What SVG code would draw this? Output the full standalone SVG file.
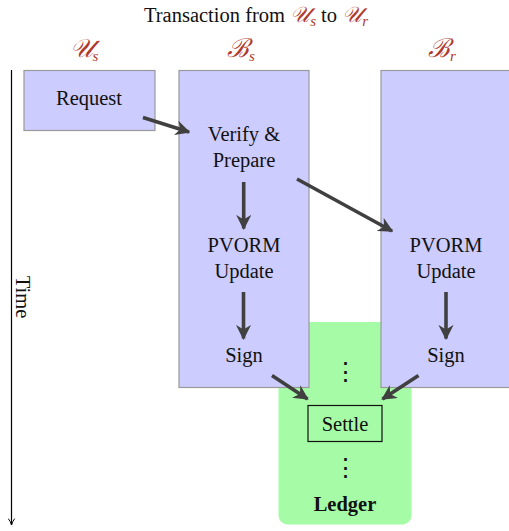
<svg xmlns="http://www.w3.org/2000/svg" width="509" height="531" viewBox="0 0 509 531">
<style>
text{font-family:"Liberation Serif","DejaVu Serif",serif;font-size:20.5px;fill:#111;text-anchor:middle}
.lab{fill:#b03a2e;font-style:italic;font-size:26px}
.tlab{fill:#b03a2e;font-style:italic;font-size:22px}
.sub{font-size:15px;fill:#b03a2e;font-style:italic}
.box{fill:#ccccff;stroke:#999;stroke-width:1.2}
.dots{font-size:25px;font-weight:normal}
.arr{stroke:#404040;stroke-width:3.6;fill:none;marker-end:url(#ah)}
</style>
<defs>
<marker id="ah" viewBox="0 0 10 10" refX="9" refY="5" markerWidth="4.2" markerHeight="4.2" orient="auto" markerUnits="strokeWidth">
<path d="M0,0 L10,5 L0,10 L3,5 Z" fill="#404040"/>
</marker>
<marker id="tah" viewBox="0 0 10 10" refX="9" refY="5" markerWidth="8" markerHeight="8" orient="auto" markerUnits="userSpaceOnUse">
<path d="M1,1 Q5,4 9,5 Q5,6 1,9" fill="none" stroke="#000" stroke-width="1.2"/>
</marker>
</defs>
<g id="title">
<text x="256" y="22" font-size="21.5">Transaction from <tspan class="tlab">𝒰</tspan><tspan class="sub" dy="4">s</tspan><tspan dy="-4"> to </tspan><tspan class="tlab">𝒰</tspan><tspan class="sub" dy="4">r</tspan></text>
</g>
<g id="time">
<line x1="11.5" y1="70" x2="11.5" y2="525" stroke="#000" stroke-width="1.2" marker-end="url(#tah)"/>
<text transform="translate(22,297) rotate(90)" y="6">Time</text>
</g>
<g id="ledger">
<rect x="278.5" y="322" width="133" height="202.5" rx="9" fill="#a6fba6"/>
<text class="dots" x="345" y="380">⋮</text>
<text class="dots" x="345" y="476">⋮</text>
<text x="345" y="511" font-weight="bold">Ledger</text>
</g>
<g id="us">
<text class="lab" x="84" y="57">𝒰<tspan class="sub" dy="4">s</tspan></text>
<rect class="box" x="24" y="70.5" width="131" height="60"/>
<text x="89" y="105">Request</text>
</g>
<g id="bs">
<text class="lab" x="241" y="57">ℬ<tspan class="sub" dy="4">s</tspan></text>
<rect class="box" x="179" y="70.5" width="130" height="317"/>
<text x="244" y="141">Verify &amp;</text>
<text x="244" y="167">Prepare</text>
<text x="244" y="252">PVORM</text>
<text x="244" y="278">Update</text>
<text x="244" y="362">Sign</text>
</g>
<g id="br">
<text class="lab" x="442" y="57">ℬ<tspan class="sub" dy="4">r</tspan></text>
<rect class="box" x="381" y="70.5" width="140" height="317"/>
<text x="446" y="252">PVORM</text>
<text x="446" y="278">Update</text>
<text x="446" y="362">Sign</text>
</g>
<g id="settle">
<rect x="308" y="405.5" width="74" height="36" fill="none" stroke="#111" stroke-width="1.2"/>
<text x="345" y="431">Settle</text>
</g>
<g id="connectors">
<line class="arr" x1="143" y1="117.5" x2="189" y2="132"/>
<line class="arr" x1="243.7" y1="182" x2="243.7" y2="228.5"/>
<line class="arr" x1="297" y1="179" x2="392" y2="231"/>
<line class="arr" x1="243.5" y1="292" x2="243.5" y2="338.5"/>
<line class="arr" x1="446" y1="292" x2="446" y2="338.5"/>
<line class="arr" x1="272" y1="375.5" x2="307.5" y2="399"/>
<line class="arr" x1="418.5" y1="375.5" x2="382.5" y2="399"/>
</g>
</svg>
